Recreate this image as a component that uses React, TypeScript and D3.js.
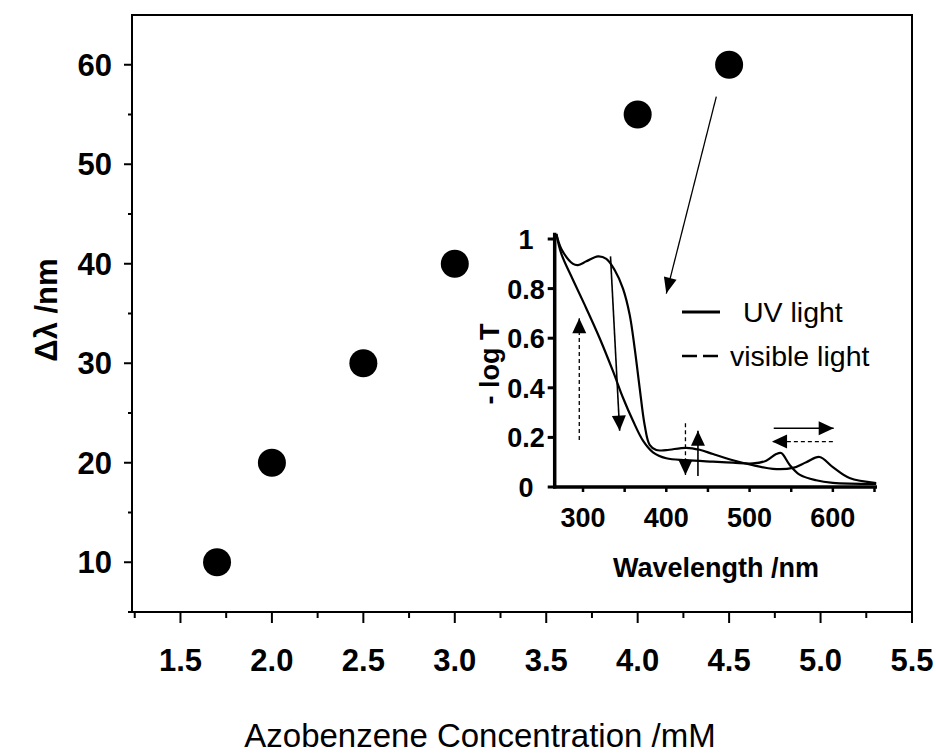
import React from "react";
import * as d3 from "d3";

// ---- main chart data ----
const concentration = [1.7, 2.0, 2.5, 3.0, 4.0, 4.5];
const deltaLambda = [10, 20, 30, 40, 55, 60];
const xMajorTicks = [1.5, 2.0, 2.5, 3.0, 3.5, 4.0, 4.5, 5.0, 5.5];
const xMinorTicks = [1.25, 1.75, 2.25, 2.75, 3.25, 3.75, 4.25, 4.75, 5.25];
const yMajorTicks = [10, 20, 30, 40, 50, 60];
const yMinorTicks = [5, 15, 25, 35, 45, 55];

// ---- inset spectra ----
const curveANm = [268, 274, 288, 294, 304, 318, 328, 338, 348, 356, 362, 368, 374, 380, 388, 400, 424, 440, 456, 480, 504, 528, 552, 568, 584, 600, 620, 652];
const curveAAbs = [1.02, 0.96, 0.9, 0.895, 0.91, 0.93, 0.92, 0.875, 0.8, 0.695, 0.56, 0.4, 0.25, 0.17, 0.149, 0.149, 0.158, 0.15, 0.133, 0.108, 0.088, 0.073, 0.077, 0.1, 0.121, 0.08, 0.036, 0.016];
const curveBNm = [268, 274, 288, 304, 320, 336, 348, 360, 372, 384, 400, 424, 456, 480, 504, 520, 532, 538, 548, 560, 580, 600, 652];
const curveBAbs = [1.02, 0.94, 0.835, 0.72, 0.6, 0.467, 0.36, 0.267, 0.187, 0.14, 0.116, 0.108, 0.102, 0.098, 0.095, 0.106, 0.133, 0.137, 0.09, 0.05, 0.027, 0.017, 0.013];
const insetXTicks = [300, 400, 500, 600];
const insetXMarks = [300, 350, 400, 450, 500, 550, 600, 650];
const insetYTicks = [0, 0.2, 0.4, 0.6, 0.8, 1];
const insetYLabels = ["0", "0.2", "0.4", "0.6", "0.8", "1"];
const legendLabels = ["UV light", "visible light"];

// annotation arrows in inset data units: [x1, y1, x2(tip), y2(tip), dashed]
const insetArrows: [number, number, number, number, boolean][] = [
  [295.5, 0.19, 295.5, 0.68, true],
  [333, 0.93, 344, 0.227, false],
  [423, 0.257, 423, 0.048, true],
  [438, 0.044, 438, 0.227, false],
  [529, 0.237, 601, 0.237, false],
  [600, 0.183, 527, 0.183, true],
];
// long arrow: start in main-chart units, tip in inset units
const longArrowStart = [4.43, 56.8];
const longArrowTip = [400, 0.78];

const FONT = "'Liberation Sans', Arial, Helvetica, sans-serif";

function arrowHead(x1: number, y1: number, x2: number, y2: number, len: number, half: number) {
  const a = Math.atan2(y2 - y1, x2 - x1);
  const bx = x2 - len * Math.cos(a);
  const by = y2 - len * Math.sin(a);
  const px = -Math.sin(a) * half;
  const py = Math.cos(a) * half;
  return `M${x2},${y2}L${bx + px},${by + py}L${bx - px},${by - py}Z`;
}

export default function App() {
  const x = d3.scaleLinear().domain([1.235, 5.5]).range([132, 912]);
  const y = d3.scaleLinear().domain([5, 65]).range([612, 15]);

  const ix = d3.scaleLinear().domain([266, 653]).range([554.7, 877]);
  const iy = d3.scaleLinear().domain([0, 1]).range([487, 239]);

  const line = d3
    .line<[number, number]>()
    .x((d) => ix(d[0]))
    .y((d) => iy(d[1]))
    .curve(d3.curveCatmullRom.alpha(0.5));

  const curveA = line(curveANm.map((n, i) => [n, curveAAbs[i]] as [number, number])) || "";
  const curveB = line(curveBNm.map((n, i) => [n, curveBAbs[i]] as [number, number])) || "";

  const lx1 = x(longArrowStart[0]);
  const ly1 = y(longArrowStart[1]);
  const lx2 = ix(longArrowTip[0]);
  const ly2 = iy(longArrowTip[1]);

  return (
    <svg
      width={936}
      height={755}
      style={{ position: "absolute", left: 0, top: 0, background: "#fff" }}
      fontFamily={FONT}
    >
      <rect x={0} y={0} width={936} height={755} fill="#fff" />
      {/* main frame */}
      <path
        d={`M${x(1.235)},${y(5)}V${y(65)}H${x(5.5)}V${y(5)}Z`}
        fill="none"
        stroke="#000"
        strokeWidth={2}
      />
      {/* x ticks */}
      {xMajorTicks.map((t) => (
        <g key={"xm" + t}>
          <line x1={x(t)} x2={x(t)} y1={y(5)} y2={y(5) + 11} stroke="#000" strokeWidth={2} />
          <text x={x(t)} y={y(5) + 59} textAnchor="middle" fontSize={31} fontWeight="bold">
            {t.toFixed(1)}
          </text>
        </g>
      ))}
      {xMinorTicks.map((t) => (
        <line key={"xn" + t} x1={x(t)} x2={x(t)} y1={y(5)} y2={y(5) + 6} stroke="#000" strokeWidth={2} />
      ))}
      {/* y ticks */}
      {yMajorTicks.map((t) => (
        <g key={"ym" + t}>
          <line x1={x(1.235) - 8} x2={x(1.235)} y1={y(t)} y2={y(t)} stroke="#000" strokeWidth={2} />
          <text x={112} y={y(t) + 11} textAnchor="end" fontSize={31} fontWeight="bold">
            {t}
          </text>
        </g>
      ))}
      {yMinorTicks.map((t) => (
        <line key={"yn" + t} x1={x(1.235) - 4} x2={x(1.235) + 1} y1={y(t)} y2={y(t)} stroke="#000" strokeWidth={2} />
      ))}
      {/* axis titles */}
      <text
        transform={`translate(57,${310}) rotate(-90)`}
        textAnchor="middle"
        fontSize={31}
        fontWeight="bold"
      >
        Δλ /nm
      </text>
      <text x={480} y={747} textAnchor="middle" fontSize={33}>
        Azobenzene Concentration /mM
      </text>
      {/* points */}
      {concentration.map((c, i) => (
        <circle key={"p" + i} cx={x(c)} cy={y(deltaLambda[i])} r={14} fill="#000" />
      ))}

      {/* long arrow */}
      <line x1={lx1} y1={ly1} x2={lx2} y2={ly2} stroke="#000" strokeWidth={1.3} />
      <path d={arrowHead(lx1, ly1, lx2, ly2, 16, 6.5)} fill="#000" />

      {/* inset curves */}
      <path d={curveA} fill="none" stroke="#000" strokeWidth={2.2} />
      <path d={curveB} fill="none" stroke="#000" strokeWidth={2.2} />

      {/* inset axes */}
      <line x1={ix(266)} x2={ix(266)} y1={iy(0) + 1.5} y2={iy(1.025)} stroke="#000" strokeWidth={3.5} />
      <line x1={ix(266) - 1.5} x2={ix(653)} y1={iy(0)} y2={iy(0)} stroke="#000" strokeWidth={3.5} />
      {insetYTicks.map((t, i) => (
        <g key={"iy" + t}>
          <line x1={ix(266) - 7} x2={ix(266)} y1={iy(t)} y2={iy(t)} stroke="#000" strokeWidth={3} />
          <text x={526} y={iy(t) + 10} textAnchor="middle" fontSize={27} fontWeight="bold">
            {insetYLabels[i]}
          </text>
        </g>
      ))}
      {insetXMarks.map((t) => (
        <line key={"ixm" + t} x1={ix(t)} x2={ix(t)} y1={iy(0)} y2={iy(0) + 5} stroke="#000" strokeWidth={2.5} />
      ))}
      {insetXTicks.map((t) => (
        <text key={"ixt" + t} x={ix(t)} y={iy(0) + 40} textAnchor="middle" fontSize={27} fontWeight="bold">
          {t}
        </text>
      ))}
      <text x={716} y={577} textAnchor="middle" fontSize={27} fontWeight="bold">
        Wavelength /nm
      </text>
      <text
        transform={`translate(499,${364}) rotate(-90)`}
        textAnchor="middle"
        fontSize={27}
        fontWeight="bold"
      >
        - log T
      </text>

      {/* inset arrows */}
      {insetArrows.map((a, i) => {
        const x1 = ix(a[0]);
        const y1 = iy(a[1]);
        const x2 = ix(a[2]);
        const y2 = iy(a[3]);
        return (
          <g key={"ia" + i}>
            <line
              x1={x1}
              y1={y1}
              x2={x2}
              y2={y2}
              stroke="#000"
              strokeWidth={a[4] ? 1.3 : 1.6}
              strokeDasharray={a[4] ? "4,3" : undefined}
            />
            <path d={arrowHead(x1, y1, x2, y2, 15, 7)} fill="#000" />
          </g>
        );
      })}

      {/* legend */}
      <line x1={682} x2={720} y1={312} y2={312} stroke="#000" strokeWidth={3} />
      <text x={743} y={322} fontSize={28.5}>
        {legendLabels[0]}
      </text>
      <line x1={682} x2={718} y1={356} y2={356} stroke="#000" strokeWidth={2.5} strokeDasharray="15,6" />
      <text x={730} y={366} fontSize={28.5}>
        {legendLabels[1]}
      </text>
    </svg>
  );
}
